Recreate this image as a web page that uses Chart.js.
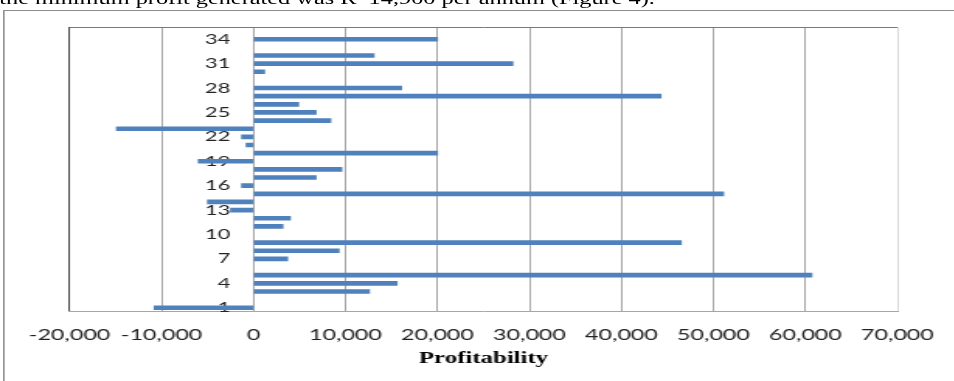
<!DOCTYPE html>
<html><head><meta charset="utf-8">
<script src="https://cdn.jsdelivr.net/npm/chart.js@4/dist/chart.umd.min.js"></script>
<style>
html,body{margin:0;padding:0;background:#fff;overflow:hidden;width:954px;height:381px;}
#page{position:absolute;left:0;top:0;width:615.5px;height:381px;transform-origin:0 0;transform:scaleX(1.55);}
#caption{position:absolute;left:-0.5px;top:-9.5px;font-family:"Liberation Serif","Times New Roman",serif;font-size:15.7px;line-height:16px;white-space:nowrap;color:#000;}
#frame{position:absolute;left:1.9px;top:10px;width:700px;height:420px;border:1px solid #8c8c8c;box-sizing:border-box;}
#wrap{position:absolute;left:0;top:0;width:615.5px;height:381px;}
</style></head>
<body>
<div id="page">
<div id="caption">the minimum profit generated was R&nbsp;&nbsp;14,900 per annum (Figure 4).</div>
<div id="frame"></div>
<div id="wrap"><canvas id="c"></canvas></div>
</div>
<script>
const categories = ["1","2","3","4","5","6","7","8","9","10","11","12","13","14","15","16","17","18","19","20","21","22","23","24","25","26","27","28","29","30","31","32","33","34","35"];
const profitability = [-10800, null, 12600, 15600, 60700, null, 3700, 9300, 46500, null, 3200, 4000, -2500, -5000, 51100, -1300, 6800, 9600, -6000, 20000, -800, -1300, -14900, 8400, 6800, 4900, 44300, 16100, null, 1200, 28200, 13100, null, 20000, null];
const yTickLabels = ["1","4","7","10","13","16","19","22","25","28","31","34"];
const xMin = -20000, xMax = 70000, xStep = 10000;
const xTitle = "Profitability";
const yLabelGap = 15;

const plotBorder = {
  id: 'plotBorder',
  beforeDraw(chart) {
    const items = chart.scales.y.getLabelItems();
    items.forEach(it => {
      if (!it._shifted) { it.options.translation[0] -= yLabelGap; it._shifted = true; }
    });
  },
  beforeDatasetsDraw(chart) {
    const {ctx, chartArea: a} = chart;
    ctx.save();
    ctx.lineWidth = 1;
    ctx.strokeStyle = '#7a7a7a';
    ctx.beginPath();
    ctx.moveTo(a.left, a.top + 0.5);
    ctx.lineTo(a.right, a.top + 0.5);
    ctx.stroke();
    ctx.restore();
  }
};

new Chart(document.getElementById('c'), {
  type: 'bar',
  data: {
    labels: categories,
    datasets: [{
      data: profitability,
      backgroundColor: '#4F81BD',
      borderWidth: 0,
      barThickness: 4
    }]
  },
  plugins: [plotBorder],
  options: {
    indexAxis: 'y',
    responsive: true,
    maintainAspectRatio: false,
    animation: false,
    layout: {padding: {top: 27, left: 44.8, right: 35, bottom: 13}},
    plugins: {legend: {display: false}, tooltip: {enabled: false}, title: {display: false}},
    scales: {
      x: {
        type: 'linear',
        min: xMin, max: xMax,
        ticks: {
          stepSize: xStep,
          padding: 14,
          color: '#222',
          font: {family: 'Lato', size: 15},
          callback: v => v.toLocaleString('en-US')
        },
        grid: {
          drawTicks: false,
          color: c => c.tick && c.tick.value === xMin ? '#404040' : (c.tick && c.tick.value === xMax ? '#d9d9d9' : '#a6a6a6'),
          lineWidth: 1
        },
        border: {display: true, color: '#a6a6a6'},
        title: {
          display: true,
          text: xTitle,
          color: '#000',
          font: {family: '"Liberation Serif", "Times New Roman", serif', size: 16, weight: 'bold'},
          padding: {top: -9, bottom: 0}
        }
      },
      y: {
        type: 'category',
        reverse: true,
        position: {x: 0},
        grid: {display: false, drawTicks: false},
        border: {display: false},
        ticks: {
          autoSkip: false,
          padding: 0,
          color: '#222',
          font: {family: 'Lato', size: 14},
          callback: function(v, i) { const l = this.getLabelForValue(v); return yTickLabels.includes(l) ? l : ''; }
        }
      }
    }
  }
});
</script>
</body></html>
